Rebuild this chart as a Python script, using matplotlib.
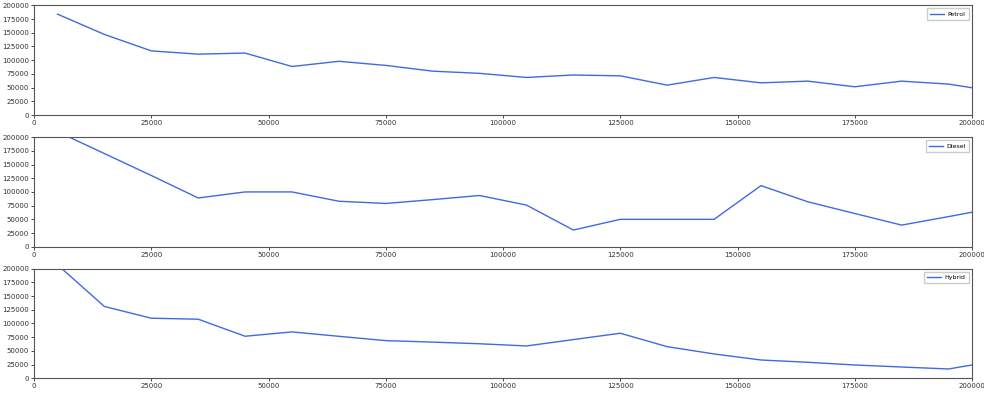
import numpy as np
import matplotlib
matplotlib.use('Agg')
from matplotlib import pyplot as plt

# mileage bins (last point at the axis edge)
mileage = [5000, 15000, 25000, 35000, 45000, 55000, 65000, 75000, 85000, 95000,
           105000, 115000, 125000, 135000, 145000, 155000, 165000, 175000,
           185000, 195000, 200000]

petrol = [184000, 147000, 117000, 111000, 113000, 88500, 98000, 90500, 80000, 76000,
          68500, 73000, 71500, 54500, 68500, 58700, 61800, 51500, 61800, 56400, 49700]
diesel = [210000, 170000, 130000, 89000, 100000, 100000, 83000, 79000, 86000, 93500,
          76000, 30500, 50000, 50000, 50000, 111500, 82000, 60700, 39500, 55000, 63000]
hybrid = [207000, 131000, 109600, 107800, 76700, 84600, 76600, 68700, 66000, 63000,
          59000, 70600, 82200, 57700, 44400, 33400, 29200, 24300, 20600, 17000, 24300]

series = [('Petrol', petrol), ('Diesel', diesel), ('Hybrid', hybrid)]

fig = plt.figure(figsize=(9.84, 3.98), dpi=100)
left, width = 0.0346, 0.9532
bottoms = [0.711, 0.380, 0.0495]
height = 0.2755

for (name, vals), b in zip(series, bottoms):
    ax = fig.add_axes([left, b, width, height])
    ax.plot(mileage, vals, color='#4169e1', lw=1.0, label=name)
    ax.set_xlim(0, 200000)
    ax.set_ylim(0, 200000)
    ax.set_xticks(np.arange(0, 200001, 25000))
    ax.set_yticks(np.arange(0, 200001, 25000))
    ax.tick_params(labelsize=5, length=2, width=0.5, pad=1.5, labelcolor='#333333')
    for s in ax.spines.values():
        s.set_linewidth(0.8)
        s.set_color('#555555')
    ax.legend(loc='upper right', fontsize=4.5, handlelength=2.2, handletextpad=0.6,
              borderpad=0.5, framealpha=1, edgecolor='#cccccc', fancybox=False)

plt.savefig('out.png', dpi=100)
